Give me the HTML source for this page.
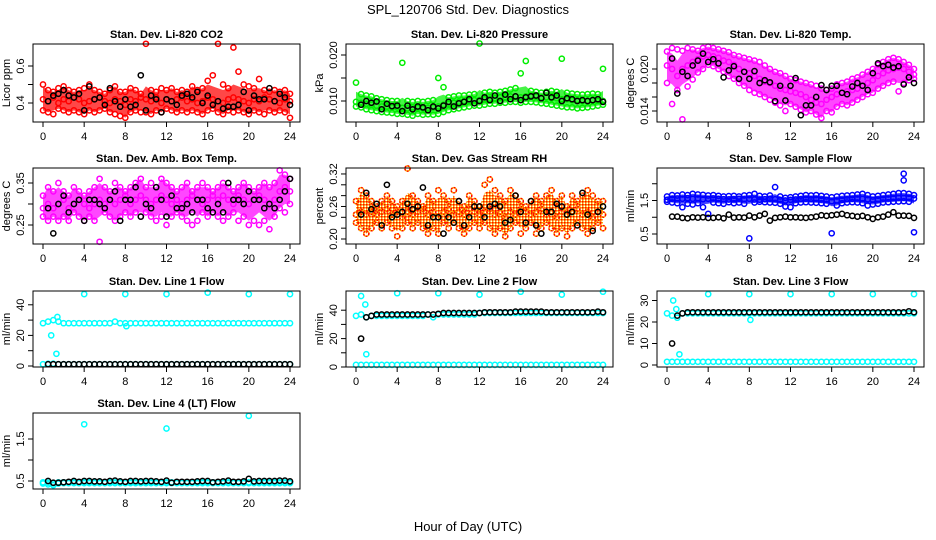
<!DOCTYPE html>
<html><head><meta charset="utf-8"><style>
html,body{margin:0;padding:0;background:#fff;}
svg{display:block;font-family:"Liberation Sans",sans-serif;}
</style></head><body>
<svg id="chart" width="936" height="540" viewBox="0 0 936 540">
<defs>
<pattern id="rhPat" width="3" height="3" patternUnits="userSpaceOnUse">
<rect width="3" height="3" fill="#ffa500"/><rect width="1.5" height="1.5" fill="#ff0000"/><rect x="1.5" y="1.5" width="1.5" height="1.5" fill="#ffffff"/>
</pattern>
</defs>
<rect x="0" y="0" width="936" height="540" fill="#fff"/>
<text x="468" y="14" font-size="13" text-anchor="middle">SPL_120706  Std. Dev. Diagnostics</text>
<text x="468" y="531" font-size="13" text-anchor="middle">Hour of Day (UTC)</text>
</svg>
<script>
// ---- data ----
const xTicks = [0,4,8,12,16,20,24];
const co2Hi = [0.50,0.47,0.46,0.48,0.49,0.47,0.46,0.47,0.48,0.50,0.47,0.46,0.45,0.47,0.49,0.46,0.46,0.48,0.47,0.45,0.72,0.47,0.46,0.48,0.47,0.48,0.46,0.47,0.46,0.49,0.47,0.48,0.52,0.55,0.72,0.50,0.48,0.70,0.57,0.50,0.49,0.48,0.53,0.47,0.46,0.47,0.46,0.47,0.45];
const co2Mid = [0.42,0.41,0.43,0.40,0.42,0.41,0.43,0.42,0.40,0.41,0.42,0.43,0.41,0.40,0.42,0.41,0.39,0.42,0.41,0.43,0.42,0.41,0.43,0.40,0.42,0.41,0.42,0.43,0.41,0.42,0.40,0.41,0.43,0.42,0.41,0.40,0.42,0.43,0.42,0.41,0.40,0.42,0.41,0.43,0.42,0.41,0.40,0.42,0.41];
const co2Lo = [0.36,0.35,0.34,0.37,0.36,0.35,0.36,0.35,0.34,0.36,0.35,0.36,0.37,0.35,0.34,0.33,0.32,0.35,0.36,0.35,0.35,0.34,0.36,0.35,0.37,0.36,0.35,0.36,0.35,0.36,0.35,0.34,0.36,0.37,0.35,0.34,0.36,0.35,0.36,0.35,0.34,0.36,0.35,0.34,0.36,0.35,0.36,0.35,0.32];
const co2Blk = [0.41,0.44,0.45,0.47,0.44,0.43,0.45,0.36,0.49,0.42,0.43,0.39,0.48,0.41,0.38,0.42,0.38,0.39,0.55,0.36,0.44,0.42,0.35,0.42,0.41,0.39,0.44,0.45,0.43,0.46,0.40,0.44,0.39,0.41,0.37,0.38,0.38,0.39,0.46,0.36,0.44,0.42,0.42,0.48,0.41,0.45,0.43,0.39];
const co2Ticks = [0.4,0.5,0.6]; const co2Labels = ["0.4","","0.6"];

const presHi = [0.0140,0.0115,0.0112,0.0110,0.0106,0.0104,0.0102,0.0100,0.0100,0.0183,0.0100,0.0098,0.0100,0.0098,0.0100,0.0102,0.0150,0.0130,0.0108,0.0110,0.0112,0.0112,0.0114,0.0115,0.0225,0.0118,0.0120,0.0118,0.0120,0.0122,0.0125,0.0128,0.0160,0.0187,0.0122,0.0120,0.0118,0.0120,0.0122,0.0120,0.0192,0.0118,0.0116,0.0115,0.0114,0.0115,0.0116,0.0115,0.0170];
const presMid = [0.0098,0.0096,0.0094,0.0092,0.0090,0.0088,0.0088,0.0086,0.0086,0.0085,0.0084,0.0086,0.0085,0.0084,0.0085,0.0086,0.0088,0.0092,0.0094,0.0096,0.0098,0.0100,0.0100,0.0102,0.0102,0.0104,0.0105,0.0106,0.0108,0.0108,0.0110,0.0110,0.0108,0.0110,0.0112,0.0110,0.0108,0.0108,0.0106,0.0106,0.0104,0.0104,0.0102,0.0102,0.0100,0.0100,0.0102,0.0100,0.0100];
const presLo = [0.0088,0.0086,0.0082,0.0080,0.0078,0.0076,0.0075,0.0074,0.0072,0.0072,0.0070,0.0068,0.0072,0.0070,0.0071,0.0070,0.0072,0.0076,0.0080,0.0082,0.0084,0.0086,0.0088,0.0090,0.0090,0.0092,0.0094,0.0094,0.0096,0.0096,0.0098,0.0098,0.0096,0.0098,0.0098,0.0097,0.0095,0.0094,0.0092,0.0090,0.0088,0.0086,0.0086,0.0084,0.0085,0.0086,0.0088,0.0090,0.0092];
const presBlk = [0.0092,0.0100,0.0096,0.0099,0.0082,0.0094,0.0089,0.0090,0.0078,0.0090,0.0082,0.0088,0.0086,0.0080,0.0088,0.0084,0.0090,0.0098,0.0088,0.0095,0.0098,0.0104,0.0095,0.0100,0.0108,0.0102,0.0112,0.0100,0.0114,0.0104,0.0110,0.0102,0.0108,0.0110,0.0112,0.0106,0.0118,0.0108,0.0112,0.0100,0.0106,0.0104,0.0100,0.0102,0.0100,0.0102,0.0104,0.0098];
const presTicks = [0.010,0.015,0.020]; const presLabels = ["0.010","","0.020"];

const tempHi = [0.0225,0.0230,0.0228,0.0226,0.0230,0.0228,0.0226,0.0230,0.0232,0.0230,0.0228,0.0226,0.0224,0.0220,0.0218,0.0216,0.0214,0.0212,0.0210,0.0205,0.0200,0.0196,0.0194,0.0190,0.0186,0.0184,0.0182,0.0180,0.0178,0.0176,0.0172,0.0170,0.0172,0.0178,0.0180,0.0182,0.0186,0.0188,0.0192,0.0196,0.0200,0.0206,0.0210,0.0214,0.0216,0.0214,0.0210,0.0206,0.0200];
const tempMid = [0.0205,0.0200,0.0190,0.0200,0.0205,0.0210,0.0214,0.0218,0.0220,0.0218,0.0216,0.0212,0.0210,0.0206,0.0200,0.0196,0.0194,0.0190,0.0186,0.0182,0.0180,0.0176,0.0172,0.0170,0.0168,0.0166,0.0164,0.0160,0.0156,0.0152,0.0150,0.0156,0.0160,0.0164,0.0166,0.0168,0.0170,0.0172,0.0176,0.0180,0.0184,0.0190,0.0194,0.0198,0.0200,0.0202,0.0200,0.0196,0.0192];
const tempLo = [0.0180,0.0150,0.0170,0.0128,0.0175,0.0185,0.0195,0.0200,0.0206,0.0204,0.0200,0.0196,0.0190,0.0186,0.0180,0.0176,0.0170,0.0166,0.0164,0.0160,0.0156,0.0152,0.0148,0.0140,0.0150,0.0146,0.0142,0.0138,0.0140,0.0135,0.0130,0.0140,0.0138,0.0146,0.0150,0.0148,0.0152,0.0156,0.0160,0.0164,0.0166,0.0172,0.0176,0.0180,0.0182,0.0168,0.0180,0.0184,0.0186];
const tempBlk = [0.0215,0.0165,0.0196,0.0190,0.0205,0.0212,0.0222,0.0210,0.0214,0.0208,0.0188,0.0198,0.0204,0.0186,0.0196,0.0186,0.0197,0.0180,0.0184,0.0181,0.0154,0.0176,0.0155,0.0176,0.0187,0.0134,0.0148,0.0148,0.0160,0.0177,0.0170,0.0176,0.0176,0.0166,0.0164,0.0175,0.0180,0.0176,0.0170,0.0194,0.0208,0.0204,0.0206,0.0202,0.0204,0.0178,0.0188,0.0180];
const tempTicks = [0.014,0.016,0.018,0.020]; const tempLabels = ["0.014","","","0.020"];

const ambHi = [0.32,0.34,0.33,0.35,0.33,0.32,0.34,0.33,0.32,0.33,0.34,0.36,0.34,0.33,0.35,0.34,0.33,0.34,0.35,0.36,0.34,0.35,0.34,0.36,0.35,0.34,0.33,0.34,0.35,0.33,0.34,0.35,0.34,0.33,0.34,0.35,0.34,0.33,0.34,0.35,0.34,0.33,0.34,0.35,0.34,0.35,0.38,0.37,0.36];
const ambMid = [0.29,0.30,0.29,0.30,0.31,0.29,0.30,0.31,0.30,0.29,0.30,0.31,0.30,0.31,0.30,0.31,0.32,0.30,0.31,0.32,0.31,0.30,0.31,0.32,0.31,0.30,0.31,0.30,0.31,0.32,0.31,0.30,0.31,0.32,0.31,0.32,0.31,0.30,0.32,0.31,0.30,0.31,0.32,0.31,0.30,0.31,0.33,0.34,0.33];
const ambLo = [0.27,0.26,0.27,0.26,0.27,0.26,0.28,0.27,0.26,0.27,0.26,0.21,0.28,0.27,0.26,0.27,0.28,0.27,0.28,0.27,0.28,0.27,0.26,0.27,0.25,0.27,0.28,0.27,0.26,0.25,0.26,0.28,0.27,0.28,0.27,0.26,0.27,0.28,0.26,0.27,0.25,0.26,0.25,0.26,0.24,0.27,0.29,0.28,0.30];
const ambBlk = [0.29,0.23,0.30,0.32,0.28,0.30,0.31,0.26,0.31,0.31,0.30,0.29,0.31,0.33,0.26,0.31,0.31,0.34,0.27,0.30,0.29,0.34,0.31,0.27,0.32,0.29,0.29,0.30,0.28,0.31,0.31,0.29,0.28,0.30,0.28,0.35,0.31,0.31,0.30,0.33,0.31,0.31,0.29,0.30,0.29,0.31,0.33,0.36];
const ambTicks = [0.25,0.30,0.35]; const ambLabels = ["0.25","","0.35"];

const rhHi = [0.27,0.29,0.28,0.27,0.26,0.27,0.28,0.27,0.26,0.27,0.33,0.28,0.27,0.26,0.28,0.27,0.29,0.28,0.27,0.29,0.27,0.26,0.28,0.27,0.26,0.30,0.31,0.29,0.28,0.27,0.29,0.28,0.27,0.26,0.27,0.28,0.27,0.28,0.29,0.27,0.28,0.26,0.28,0.27,0.28,0.29,0.28,0.27,0.27];
const rhMid = [0.245,0.25,0.245,0.25,0.245,0.25,0.255,0.245,0.25,0.24,0.25,0.245,0.25,0.255,0.245,0.25,0.24,0.25,0.255,0.245,0.25,0.245,0.255,0.25,0.245,0.25,0.255,0.245,0.25,0.24,0.25,0.245,0.255,0.25,0.245,0.25,0.255,0.245,0.25,0.24,0.25,0.245,0.25,0.255,0.245,0.25,0.24,0.25,0.245];
const rhLo = [0.23,0.22,0.21,0.22,0.23,0.22,0.23,0.22,0.205,0.22,0.23,0.22,0.23,0.22,0.21,0.22,0.21,0.23,0.22,0.23,0.22,0.21,0.22,0.23,0.22,0.23,0.22,0.21,0.22,0.205,0.22,0.23,0.21,0.22,0.23,0.21,0.22,0.23,0.22,0.21,0.22,0.205,0.22,0.23,0.22,0.21,0.22,0.23,0.22];
const rhBlk = [0.245,0.285,0.255,0.265,0.225,0.30,0.24,0.245,0.25,0.265,0.255,0.26,0.295,0.225,0.24,0.24,0.21,0.24,0.23,0.27,0.225,0.24,0.26,0.26,0.24,0.26,0.265,0.26,0.23,0.235,0.28,0.25,0.23,0.27,0.225,0.21,0.25,0.25,0.265,0.26,0.245,0.25,0.225,0.285,0.245,0.215,0.25,0.26];
const rhTicks = [0.20,0.22,0.24,0.26,0.28,0.30,0.32]; const rhLabels = ["0.20","","","0.26","","","0.32"];

const sfHi = [1.62,1.66,1.65,1.68,1.66,1.70,1.68,1.67,1.65,1.66,1.64,1.62,1.63,1.64,1.62,1.65,1.66,1.70,1.64,1.62,1.65,1.90,1.62,1.58,1.60,1.62,1.64,1.66,1.65,1.66,1.64,1.62,1.60,1.62,1.64,1.65,1.66,1.68,1.70,1.66,1.62,1.64,1.66,1.68,1.70,1.72,1.72,1.70,1.66];
const sfMid = [1.52,1.55,1.56,1.55,1.57,1.55,1.56,1.54,1.55,1.56,1.55,1.54,1.53,1.54,1.55,1.54,1.55,1.53,1.52,1.54,1.55,1.54,1.52,1.50,1.52,1.53,1.54,1.55,1.54,1.55,1.53,1.52,1.48,1.50,1.52,1.54,1.55,1.56,1.55,1.54,1.52,1.53,1.55,1.56,1.57,1.58,1.58,1.58,1.56];
const sfLo = [1.46,1.44,1.42,1.30,1.40,1.38,1.42,1.30,1.10,1.44,1.42,1.40,1.45,1.42,1.44,1.40,0.37,1.44,1.46,1.45,1.44,1.43,1.40,1.32,1.30,1.42,1.44,1.45,1.44,1.43,1.42,1.40,0.52,1.35,1.42,1.44,1.45,1.44,1.42,1.35,1.38,1.40,1.44,1.45,1.46,1.47,1.48,1.46,0.55];
const sfBlk = [1.02,1.02,0.98,0.97,1.00,0.99,1.00,0.98,0.98,1.00,0.97,1.08,0.99,1.00,0.99,1.05,1.00,1.05,1.10,0.90,0.98,1.00,1.02,1.00,1.00,0.99,0.98,1.00,1.02,1.06,1.04,1.06,1.08,1.10,1.06,1.04,1.02,1.04,1.00,0.95,1.00,1.02,1.08,1.15,1.05,1.05,1.04,0.98];
const sfOutH = [23,23]; const sfOutV = [2.30,2.10];
const sfTicks = [0.5,1.0,1.5,2.0]; const sfLabels = ["0.5","","1.5",""];

const l1Hi = [28,29,30,29,28,28,28,28,28,28,28,28,28,28,29,28,28,28,28,28,28,28,28,28,28,28,28,28,28,28,28,28,28,28,28,28,28,28,28,28,28,28,28,28,28,28,28,28,28];
const l1Lo = [1.2,1.5,1.5,1.2,1.2,1.2,1.2,1.2,1.2,1.2,1.2,1.2,1.2,1.2,1.2,1.2,1.2,1.2,1.2,1.2,1.2,1.2,1.2,1.2,1.2,1.2,1.2,1.2,1.2,1.2,1.2,1.2,1.2,1.2,1.2,1.2,1.2,1.2,1.2,1.2,1.2,1.2,1.2,1.2,1.2,1.2,1.2,1.2,1.2];
const l1Blk = [1.2,1.2,1.2,1.2,1.2,1.2,1.2,1.2,1.2,1.2,1.2,1.2,1.2,1.2,1.2,1.2,1.2,1.2,1.2,1.2,1.2,1.2,1.2,1.2,1.2,1.2,1.2,1.2,1.2,1.2,1.2,1.2,1.2,1.2,1.2,1.2,1.2,1.2,1.2,1.2,1.2,1.2,1.2,1.2,1.2,1.2,1.2,1.2];
const l1OutH = [0.8,1.3,1.4,4,8,8.1,12,16,20,24]; const l1OutV = [20,8,32,47,47,26,47,48,47,47];
const l1Ticks = [0,10,20,30,40]; const l1Labels = ["0","","20","","40"];

const l2Hi = [36,37,35,36,36,36,36,36,36,36,36,36,36,36,37,35,37,37,37,37,37,37,37,37,38,38,38,38,38,38,38,38,38,38,38,38,38,38,38,38,38,38,38,38,38,38,38,38,38];
const l2Lo = [1.5,1.5,1.5,1.5,1.5,1.5,1.5,1.5,1.5,1.5,1.5,1.5,1.5,1.5,1.5,1.5,1.5,1.5,1.5,1.5,1.5,1.5,1.5,1.5,1.5,1.5,1.5,1.5,1.5,1.5,1.5,1.5,1.5,1.5,1.5,1.5,1.5,1.5,1.5,1.5,1.5,1.5,1.5,1.5,1.5,1.5,1.5,1.5,1.5];
const l2Blk = [20,35,36,37,37,37,37,37,37,37,37,37,37,37,37,37.5,38,38,38,38,38,38,38,38,38.5,38.5,38.5,38.5,38.5,38.5,39,39,39,39,39,39,38.5,38.5,38.5,38.5,38.5,38.5,38.5,38.5,38.5,38.5,39,38.5];
const l2OutH = [0.5,0.9,1.0,4,8,12,16,20,24]; const l2OutV = [50,44,9,52,52,51,53,51,53];
const l2Ticks = [0,10,20,30,40]; const l2Labels = ["0","","20","","40"];

const l3Hi = [24,23,22,24,24,24,24,24,24,24,24,24,24,24,24,24,24,24,24,24,24,24,24,24,24,24,24,24,24,24,24,24,24,24,24,24,24,24,24,24,24,24,24,24,24,24,24,24,24];
const l3Lo = [1.5,1.5,1.5,1.5,1.5,1.5,1.5,1.5,1.5,1.5,1.5,1.5,1.5,1.5,1.5,1.5,1.5,1.5,1.5,1.5,1.5,1.5,1.5,1.5,1.5,1.5,1.5,1.5,1.5,1.5,1.5,1.5,1.5,1.5,1.5,1.5,1.5,1.5,1.5,1.5,1.5,1.5,1.5,1.5,1.5,1.5,1.5,1.5,1.5];
const l3Blk = [10,23,24,24.5,24.5,24.5,24.5,24.5,24.5,24.5,24.5,24.5,24.5,24.5,24.5,24.5,24.5,24.5,24.5,24.5,24.5,24.5,24.5,24.5,24.5,24.5,24.5,24.5,24.5,24.5,24.5,24.5,24.5,24.5,24.5,24.5,24.5,24.5,24.5,24.5,24.5,24.5,24.5,24.5,24.5,24.5,25,24.5];
const l3OutH = [0.6,0.9,1.2,4,8,8.1,12,16,20,24]; const l3OutV = [30,26,5,33,33,21,33,33,33,33];
const l3Ticks = [0,10,20,30]; const l3Labels = ["0","10","20","30"];

const l4Hi = [0.47,0.46,0.44,0.47,0.47,0.47,0.47,0.47,0.47,0.47,0.47,0.47,0.47,0.47,0.47,0.47,0.47,0.47,0.47,0.47,0.47,0.47,0.47,0.47,0.47,0.47,0.47,0.47,0.47,0.47,0.47,0.47,0.47,0.47,0.47,0.47,0.47,0.47,0.47,0.47,0.47,0.47,0.47,0.47,0.47,0.47,0.47,0.47,0.47];
const l4Lo = [0.44,0.42,0.40,0.44,0.45,0.45,0.45,0.45,0.45,0.45,0.45,0.45,0.45,0.45,0.45,0.45,0.45,0.45,0.45,0.45,0.45,0.45,0.45,0.45,0.45,0.45,0.45,0.45,0.45,0.45,0.45,0.45,0.45,0.45,0.45,0.45,0.45,0.45,0.45,0.45,0.45,0.45,0.45,0.45,0.45,0.45,0.45,0.45,0.45];
const l4Blk = [0.50,0.46,0.46,0.47,0.48,0.50,0.48,0.50,0.50,0.49,0.49,0.48,0.50,0.51,0.49,0.48,0.50,0.50,0.49,0.50,0.50,0.49,0.48,0.51,0.46,0.48,0.48,0.48,0.48,0.49,0.50,0.50,0.47,0.48,0.49,0.51,0.48,0.48,0.49,0.55,0.49,0.50,0.50,0.50,0.50,0.51,0.51,0.49];
const l4OutH = [4,12,20]; const l4OutV = [1.85,1.75,2.05];
const l4Ticks = [0.5,1.0,1.5]; const l4Labels = ["0.5","","1.5"];

// ---- layout ----
const NS = "http://www.w3.org/2000/svg";
const svg = document.getElementById("chart");
const colTick0 = [43, 356, 667];
const rowTop = [44, 168, 291, 413];
const rowBot = [122, 244, 367, 489];
const SPAN = 247;

function mk(tag, attrs, parent) {
  const e = document.createElementNS(NS, tag);
  for (const k in attrs) e.setAttribute(k, attrs[k]);
  (parent || svg).appendChild(e);
  return e;
}

function panel(p) {
  const g = mk("g", {});
  
  
  const t0 = colTick0[p.col];
  const left = t0 - 10, right = t0 + SPAN + 10;
  const top = rowTop[p.row], bot = rowBot[p.row];
  const xs = h => t0 + h / 24 * SPAN;
  const ys = v => p.y0 - (v - p.v0) * p.k;
  const tt = mk("text", {x: (left + right) / 2, y: top - 6, "font-size": 11, "font-weight": "bold", "text-anchor": "middle"}, g);
  tt.textContent = p.title;
  
  
  const pts = mk("g", {fill: "none", "stroke-width": 1.5}, g);
  
  
  if (p.cap) {
    const hi = p.bands[0], mid = p.bands[1], lo = p.bands[2];
    const topPts = hi.map((v, i) => [xs(i * 0.5), ys(Math.min(v, mid[i] + p.cap))]);
    const botPts = lo.map((v, i) => [xs(i * 0.5), ys(Math.max(v, mid[i] - p.cap))]).reverse();
    const poly = mk("polygon", {points: topPts.concat(botPts).map(q => q[0].toFixed(1) + "," + q[1].toFixed(1)).join(" "),
      fill: p.fill || p.color, "fill-opacity": p.fill ? 1 : 0.72, stroke: "none"}, pts);
    
    
  }
  function dot(h, v, color, dash) {
    const c = mk("circle", {cx: xs(h).toFixed(1), cy: ys(v).toFixed(1), r: 2.6, stroke: color}, pts);
    if (dash) c.setAttribute("stroke-dasharray", dash);
    
    
  }
  p.bands.forEach(arr => {
    arr.forEach((v, i) => {
      dot(i * 0.5, v, p.color);
      if (p.color2) dot(i * 0.5, v, p.color2, "1.5,1.5");
    });
  });
  if (p.outH) p.outH.forEach((h, i) => dot(h, p.outV[i], p.color));
  p.blk.forEach((v, i) => dot((i + 1) * 0.5, v, "#000"));
  const box = mk("rect", {x: left, y: top, width: right - left, height: bot - top, fill: "none", stroke: "#000", "stroke-width": 1}, g);
  
  
  xTicks.forEach(h => {
    mk("line", {x1: xs(h), x2: xs(h), y1: bot, y2: bot + 5, stroke: "#000"}, g);
    const l = mk("text", {x: xs(h), y: bot + 18, "font-size": 11, "text-anchor": "middle"}, g);
    l.textContent = h;
    
    
  });
  p.ticks.forEach((v, i) => {
    const y = ys(v);
    mk("line", {x1: left - 5, x2: left, y1: y, y2: y, stroke: "#000"}, g);
    if (p.labels[i]) {
      const l = mk("text", {x: left - 9, y: y, "font-size": 11, "text-anchor": "middle", transform: `rotate(-90 ${left - 9} ${y})`}, g);
      l.textContent = p.labels[i];
      
      
    }
  });
  const ya = mk("text", {x: left - 23, y: (top + bot) / 2, "font-size": 11, "text-anchor": "middle", transform: `rotate(-90 ${left - 23} ${(top + bot) / 2})`}, g);
  ya.textContent = p.ylab;
  
  
}

panel({name:"panel-co2", title:"Stan. Dev. Li-820 CO2", row:0, col:0, y0:103, v0:0.4, k:185, ticks:co2Ticks, labels:co2Labels, ylab:"Licor ppm", color:"#ff0000", bands:[co2Hi,co2Mid,co2Lo], blk:co2Blk, cap:0.07});
panel({name:"panel-pressure", title:"Stan. Dev. Li-820 Pressure", row:0, col:1, y0:101, v0:0.010, k:4600, ticks:presTicks, labels:presLabels, ylab:"kPa", color:"#00ee00", bands:[presHi,presMid,presLo], blk:presBlk, cap:0.0022});
panel({name:"panel-licor-temp", title:"Stan. Dev. Li-820 Temp.", row:0, col:2, y0:111, v0:0.014, k:7000, ticks:tempTicks, labels:tempLabels, ylab:"degrees C", color:"#ff00ff", bands:[tempHi,tempMid,tempLo], blk:tempBlk, cap:0.0022});
panel({name:"panel-amb-temp", title:"Stan. Dev. Amb. Box Temp.", row:1, col:0, y0:225, v0:0.25, k:420, ticks:ambTicks, labels:ambLabels, ylab:"degrees C", color:"#ff00ff", bands:[ambHi,ambMid,ambLo], blk:ambBlk, cap:0.04});
panel({name:"panel-gas-rh", title:"Stan. Dev. Gas Stream RH", row:1, col:1, y0:239, v0:0.20, k:542, ticks:rhTicks, labels:rhLabels, ylab:"percent", color:"#ffa500", color2:"#ff0000", fill:"url(#rhPat)", bands:[rhHi,rhMid,rhLo], blk:rhBlk, cap:0.035});
panel({name:"panel-sample-flow", title:"Stan. Dev. Sample Flow", row:1, col:2, y0:234, v0:0.5, k:33.5, ticks:sfTicks, labels:sfLabels, ylab:"ml/min", color:"#0000ff", bands:[sfHi,sfMid,sfLo], blk:sfBlk, outH:sfOutH, outV:sfOutV, cap:0.15});
panel({name:"panel-line1-flow", title:"Stan. Dev. Line 1 Flow", row:2, col:0, y0:366, v0:0, k:1.53, ticks:l1Ticks, labels:l1Labels, ylab:"ml/min", color:"#00ffff", bands:[l1Hi,l1Lo], blk:l1Blk, outH:l1OutH, outV:l1OutV});
panel({name:"panel-line2-flow", title:"Stan. Dev. Line 2 Flow", row:2, col:1, y0:367, v0:0, k:1.42, ticks:l2Ticks, labels:l2Labels, ylab:"ml/min", color:"#00ffff", bands:[l2Hi,l2Lo], blk:l2Blk, outH:l2OutH, outV:l2OutV});
panel({name:"panel-line3-flow", title:"Stan. Dev. Line 3 Flow", row:2, col:2, y0:365, v0:0, k:2.15, ticks:l3Ticks, labels:l3Labels, ylab:"ml/min", color:"#00ffff", bands:[l3Hi,l3Lo], blk:l3Blk, outH:l3OutH, outV:l3OutV});
panel({name:"panel-line4-flow", title:"Stan. Dev. Line 4 (LT) Flow", row:3, col:0, y0:481, v0:0.5, k:42, ticks:l4Ticks, labels:l4Labels, ylab:"ml/min", color:"#00ffff", bands:[l4Hi,l4Lo], blk:l4Blk, outH:l4OutH, outV:l4OutV});
</script>
</body></html>
